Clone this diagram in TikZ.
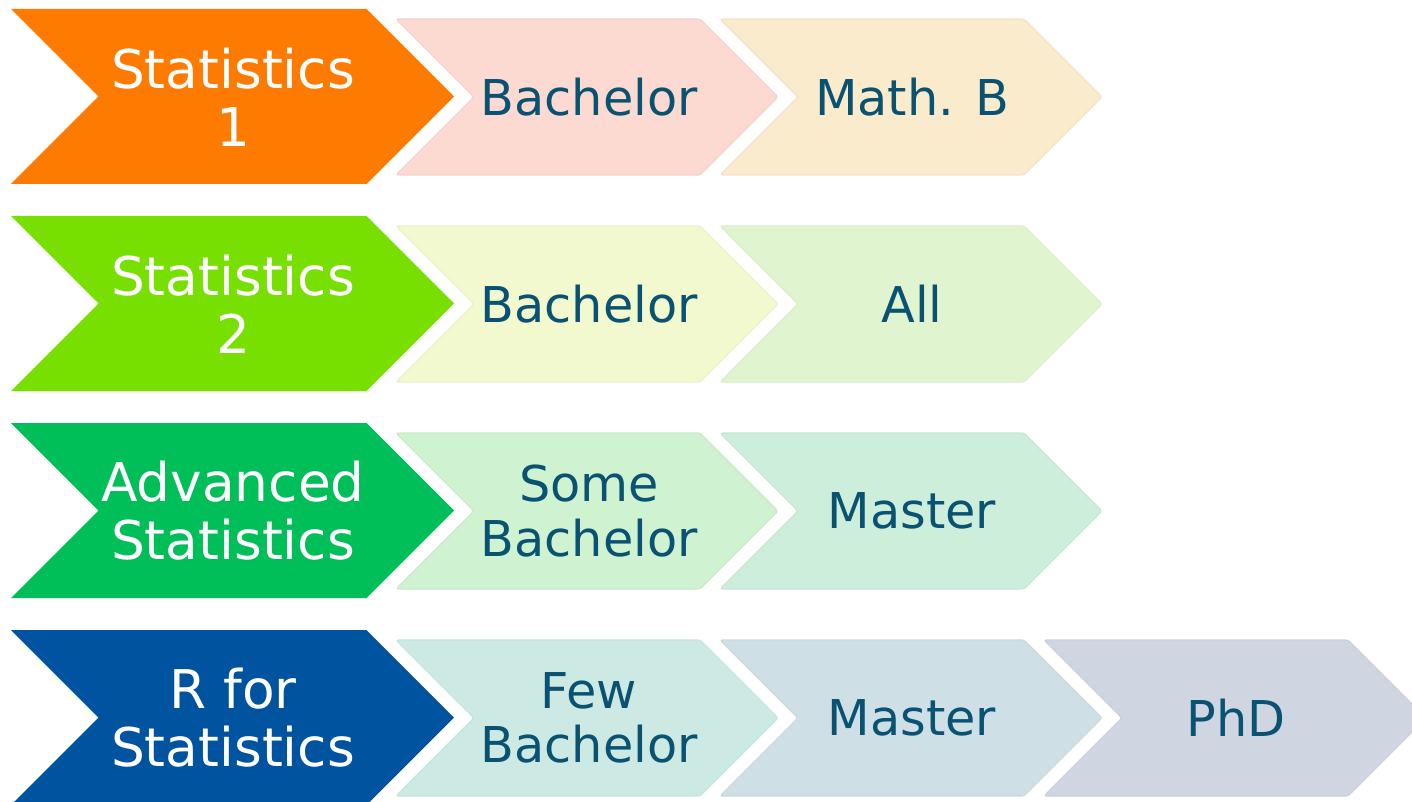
\documentclass[tikz,border=0pt]{standalone}
\usepackage{fontspec}
\setmainfont{DejaVu Sans}
\begin{document}
\definecolor{txtblue}{HTML}{0A5272}
\definecolor{cOrange}{HTML}{FF7B00}
\definecolor{cLime}{HTML}{77E000}
\definecolor{cGreen}{HTML}{00BF58}
\definecolor{cBlue}{HTML}{00539F}
\definecolor{pA}{HTML}{FDDAD1}
\definecolor{pB}{HTML}{FAEBCD}
\definecolor{pC}{HTML}{F2F9CF}
\definecolor{pD}{HTML}{E0F5CF}
\definecolor{pE}{HTML}{CFF2D0}
\definecolor{pF}{HTML}{CDEEDB}
\definecolor{pG}{HTML}{CCE9E4}
\definecolor{pH}{HTML}{CEE0E6}
\definecolor{pI}{HTML}{CFD6E2}
\begin{tikzpicture}[x=0.75pt,y=-0.75pt,
  bigtext/.style={text=white,align=center,font=\fontsize{40}{43.5}\selectfont,inner sep=0pt},
  smalltext/.style={text=txtblue,align=center,font=\fontsize{37}{41}\selectfont,inner sep=0pt}]
\useasboundingbox (0,0) rectangle (1412,802);
\clip (0,0) rectangle (1412,802);
% big chevron: #1 left x, #2 top y, #3 colour
\newcommand\bigchev[3]{%
  \fill[#3] (#1,#2) -- ++(355.5,0) -- ++(87.5,87.5) -- ++(-87.5,87.5)
    -- ++(-355.5,0) -- ++(87.5,-87.5) -- cycle;}
% small chevron: #1 left x, #2 top y, #3 colour
\newcommand\smallchev[3]{%
  \filldraw[fill=#3,draw=#3!97!black,line width=1,rounded corners=2]
    (#1,#2) -- ++(304,0) -- ++(78,78) -- ++(-78,78)
    -- ++(-304,0) -- ++(78,-78) -- cycle;}
% row 1
\bigchev{11}{9}{cOrange}
\smallchev{396}{19}{pA}
\smallchev{720}{19}{pB}
\node[bigtext] (s1) at (233,97) {Statistics\\1};
\node[smalltext] (s1a) at (589,97) {Bachelor};
\node[smalltext] (s1b) at (912,97) {Math. B};
% row 2
\bigchev{11}{216}{cLime}
\smallchev{396}{226}{pC}
\smallchev{720}{226}{pD}
\node[bigtext] (s2) at (233,304) {Statistics\\2};
\node[smalltext] (s2a) at (589,304) {Bachelor};
\node[smalltext] (s2b) at (912,304) {All};
% row 3
\bigchev{11}{423}{cGreen}
\smallchev{396}{433}{pE}
\smallchev{720}{433}{pF}
\node[bigtext] (s3) at (233,511) {Advanced\\Statistics};
\node[smalltext] (s3a) at (589,511) {Some\\Bachelor};
\node[smalltext] (s3b) at (912,511) {Master};
% row 4
\bigchev{11}{630}{cBlue}
\smallchev{396}{640}{pG}
\smallchev{720}{640}{pH}
\smallchev{1044}{640}{pI}
\node[bigtext] (s4) at (233,718) {R for\\Statistics};
\node[smalltext] (s4a) at (589,718) {Few\\Bachelor};
\node[smalltext] (s4b) at (912,718) {Master};
\node[smalltext] (s4c) at (1236,718) {PhD};
\end{tikzpicture}
\end{document}
